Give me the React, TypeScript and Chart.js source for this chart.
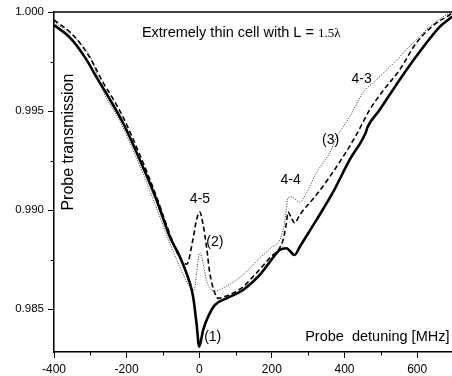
import React, { useEffect, useRef } from "react";
import { Chart, registerables } from "chart.js";

Chart.register(...registerables);

// ---------- data (detuning in MHz, probe transmission) ----------
const curve1Detuning = [-400, -354.1, -312.9, -281, -253.4, -209.4, -163.5, -117.6, -81, -53.5, -26, -16.9, -7.6, 0, 10.6, 24.3, 42.75, 74.9, 120.6, 166.5, 194, 221.5, 240, 262.75, 276.5, 322.4, 367.25, 414, 458, 463.5, 496.5, 551.5, 606.5, 661.5, 694.5, 696];
const curve1Transmission = [0.99934, 0.99867, 0.99766, 0.99665, 0.99581, 0.99438, 0.99253, 0.99051, 0.98865, 0.98764, 0.98631, 0.98562, 0.98429, 0.9831, 0.98394, 0.98461, 0.9852, 0.98554, 0.98596, 0.98672, 0.98737, 0.98798, 0.98807, 0.98773, 0.98813, 0.98949, 0.99086, 0.99253, 0.99389, 0.99419, 0.99505, 0.99657, 0.99798, 0.99924, 0.99975, 0.99978];

const curve2Detuning = [-400, -345, -299, -262.5, -240.5, -210, -163.5, -117.6, -90, -53.5, -34.25, -17.75, -7.6, 1.5, 9.75, 20, 29, 42.75, 51.8, 75, 119.75, 139, 194, 230.6, 240, 244.3, 253.7, 262.75, 276.5, 322.4, 359, 395.6, 432.4, 469, 505.6, 551.5, 597.4, 652.4, 689, 696];
const curve2Transmission = [0.9996, 0.99879, 0.99763, 0.99636, 0.99571, 0.9947, 0.99278, 0.99067, 0.98924, 0.98758, 0.98727, 0.98848, 0.98949, 0.9899, 0.98934, 0.98815, 0.98682, 0.98581, 0.98554, 0.98566, 0.98611, 0.98646, 0.98758, 0.98848, 0.98934, 0.9899, 0.9896, 0.98934, 0.98975, 0.99076, 0.99167, 0.99268, 0.99379, 0.99505, 0.99601, 0.99707, 0.99843, 0.99944, 0.99985, 0.99997];

const curve3Detuning = [-400, -345, -301, -265.25, -218.5, -163.5, -117.6, -81, -53.5, -26, -15, 1.5, 10.6, 20, 29, 42.75, 75, 120.6, 166.5, 194, 230.6, 238, 244.3, 253.7, 276.5, 295, 322.4, 359, 377.4, 414, 450.6, 487.4, 533, 588, 634, 689, 696];
const curve3Transmission = [0.99949, 0.99874, 0.99778, 0.99601, 0.99449, 0.99222, 0.9901, 0.98833, 0.98712, 0.98611, 0.98596, 0.98783, 0.98732, 0.98646, 0.98606, 0.98591, 0.98616, 0.98672, 0.98758, 0.98803, 0.98894, 0.98975, 0.99061, 0.99066, 0.9904, 0.99086, 0.99187, 0.99288, 0.99364, 0.9947, 0.99591, 0.99657, 0.99737, 0.99843, 0.99924, 0.99995, 1.0];

const xTickValues = [-400, -200, 0, 200, 400, 600];
const xMinorTickValues = [-300, -100, 100, 300, 500];
const yTickValues = [0.985, 0.99, 0.995, 1.0];
const yMinorTickValues = [0.9875, 0.9925, 0.9975];
const xRange = [-400, 696];
const yRange = [0.98283, 1.0];

const titleMain = "Extremely thin cell with L = ";
const titleValue = "1.5\u03bb";
const xAxisTitle = "Probe  detuning [MHz]";
const yAxisTitle = "Probe transmission";

// annotation texts and their anchor (data coordinates)
const annotationTexts = ["4-5", "(2)", "(1)", "4-4", "(3)", "4-3"];
const annotationX = [1.5, 42.75, 37, 251.75, 361.75, 447];
const annotationY = [0.99056, 0.98838, 0.98359, 0.99152, 0.99354, 0.99662];

const SANS = '"Liberation Sans", Arial, Helvetica, sans-serif';
const SERIF = '"Liberation Serif", "Times New Roman", serif';

function toPoints(xs: number[], ys: number[]) {
  return xs.map((x, i) => ({ x, y: ys[i] }));
}

const decorPlugin = {
  id: "decor",
  afterDraw(chart: any) {
    const ctx = chart.ctx as CanvasRenderingContext2D;
    const { left, right, top, bottom } = chart.chartArea;
    const xs = chart.scales.x;
    const ys = chart.scales.y;
    ctx.save();
    // top frame line
    ctx.strokeStyle = "#000";
    ctx.lineWidth = 1.5;
    ctx.beginPath();
    ctx.moveTo(left - 0.75, top);
    ctx.lineTo(right, top);
    ctx.stroke();
    // minor ticks
    ctx.lineWidth = 1;
    ctx.beginPath();
    xMinorTickValues.forEach((v) => {
      const px = Math.round(xs.getPixelForValue(v)) + 0.5;
      ctx.moveTo(px, bottom);
      ctx.lineTo(px, bottom + 3.5);
    });
    yMinorTickValues.forEach((v) => {
      const py = Math.round(ys.getPixelForValue(v)) + 0.5;
      ctx.moveTo(left, py);
      ctx.lineTo(left - 3.5, py);
    });
    ctx.stroke();

    ctx.fillStyle = "#000";
    ctx.textBaseline = "middle";
    // title
    const tx = xs.getPixelForValue(-158);
    const ty = ys.getPixelForValue(0.99894);
    ctx.font = `14.5px ${SANS}`;
    ctx.textAlign = "left";
    ctx.fillText(titleMain, tx, ty);
    const w = ctx.measureText(titleMain).width;
    ctx.font = `13px ${SERIF}`;
    ctx.fillText(titleValue, tx + w, ty + 0.5);

    // x axis title (inside plot, bottom right)
    ctx.font = `14.5px ${SANS}`;
    ctx.textAlign = "right";
    ctx.fillText(xAxisTitle, xs.getPixelForValue(689), ys.getPixelForValue(0.98359));

    // y axis title (inside plot, rotated)
    ctx.save();
    ctx.translate(xs.getPixelForValue(-358.75), ys.getPixelForValue(0.99343));
    ctx.rotate(-Math.PI / 2);
    ctx.textAlign = "center";
    ctx.font = `16px ${SANS}`;
    ctx.fillText(yAxisTitle, 0, 0);
    ctx.restore();

    // annotations
    ctx.font = `14px ${SANS}`;
    ctx.textAlign = "center";
    annotationTexts.forEach((t, i) => {
      ctx.fillText(t, xs.getPixelForValue(annotationX[i]), ys.getPixelForValue(annotationY[i]));
    });
    ctx.restore();
  },
};

export default function App() {
  const canvasRef = useRef<HTMLCanvasElement | null>(null);

  useEffect(() => {
    const canvas = canvasRef.current;
    if (!canvas) return;
    const chart = new Chart(canvas, {
      type: "line",
      data: {
        datasets: [
          {
            label: "(1)",
            data: toPoints(curve1Detuning, curve1Transmission),
            borderColor: "#000",
            borderWidth: 2.6,
            pointRadius: 0,
            cubicInterpolationMode: "monotone",
            fill: false,
          },
          {
            label: "(2)",
            data: toPoints(curve2Detuning, curve2Transmission),
            borderColor: "#000",
            borderWidth: 1.6,
            borderDash: [5, 3],
            pointRadius: 0,
            cubicInterpolationMode: "monotone",
            fill: false,
          },
          {
            label: "(3)",
            data: toPoints(curve3Detuning, curve3Transmission),
            borderColor: "#333",
            borderWidth: 1,
            borderDash: [1, 1.5],
            pointRadius: 0,
            cubicInterpolationMode: "monotone",
            fill: false,
          },
        ],
      },
      options: {
        animation: false,
        responsive: false,
        maintainAspectRatio: false,
        layout: { padding: { top: 12, left: 0, right: 0, bottom: 0 } },
        plugins: { legend: { display: false }, tooltip: { enabled: false }, title: { display: false } },
        scales: {
          x: {
            type: "linear",
            min: xRange[0],
            max: xRange[1],
            afterBuildTicks: (scale: any) => {
              scale.ticks = xTickValues.map((v) => ({ value: v }));
            },
            afterFit: (scale: any) => {
              scale.height = 24;
            },
            grid: { display: true, drawOnChartArea: false, drawTicks: true, tickLength: 6, color: "#000", tickWidth: 1 },
            border: { display: true, color: "#000", width: 1.5 },
            ticks: {
              color: "#000",
              font: { family: SANS, size: 12 },
              padding: 4,
              maxRotation: 0,
              autoSkip: false,
              callback: (v: any) => String(v),
            },
          },
          y: {
            type: "linear",
            min: yRange[0],
            max: yRange[1],
            afterBuildTicks: (scale: any) => {
              scale.ticks = yTickValues.map((v) => ({ value: v }));
            },
            afterFit: (scale: any) => {
              scale.width = 54;
            },
            grid: { display: true, drawOnChartArea: false, drawTicks: true, tickLength: 6, color: "#000", tickWidth: 1 },
            border: { display: true, color: "#000", width: 1.5 },
            ticks: {
              color: "#000",
              font: { family: SANS, size: 11.5 },
              padding: 4,
              autoSkip: false,
              callback: (v: any) => Number(v).toFixed(3),
            },
          },
        },
      },
      plugins: [decorPlugin],
    } as any);
    return () => chart.destroy();
  }, []);

  return (
    <div style={{ position: "fixed", left: 0, top: 0, width: 452, height: 376, overflow: "hidden", background: "#fff" }}>
      <canvas ref={canvasRef} width={452} height={376} style={{ display: "block" }} />
    </div>
  );
}
